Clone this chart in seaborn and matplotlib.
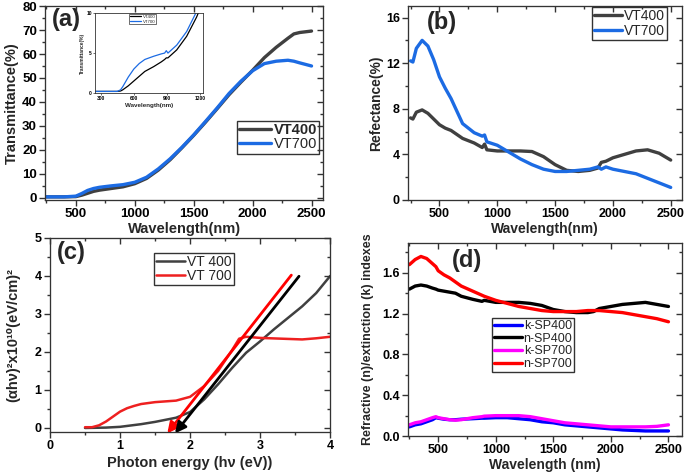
import pandas as pd
import matplotlib
matplotlib.use("Agg")
import matplotlib.pyplot as plt
from matplotlib.ticker import AutoMinorLocator
import seaborn as sns

# ---------------- data ----------------
# (a) transmittance
wl_a = [250, 400, 500, 550, 600, 650, 700, 800, 900, 1000, 1100, 1200, 1300, 1400,
        1500, 1600, 1700, 1800, 1900, 2000, 2100, 2200, 2300, 2350, 2400, 2500]
t400 = [0.3, 0.3, 0.4, 1.0, 1.8, 2.6, 3.1, 3.8, 4.5, 5.8, 8.0, 11.5, 15.8, 20.8,
        26.0, 31.5, 37.2, 43.0, 48.2, 53.2, 58.5, 62.8, 66.6, 68.4, 69.0, 69.6]
t700 = [0.3, 0.3, 0.6, 1.7, 3.0, 3.8, 4.3, 4.9, 5.4, 6.4, 8.5, 12.0, 16.2, 21.0,
        26.2, 31.8, 37.5, 43.5, 48.6, 53.0, 56.0, 57.0, 57.4, 57.0, 56.3, 55.0]

# inset of (a)
wl_in = [250, 450, 480, 500, 550, 600, 650, 700, 780, 850, 880, 895, 910, 990, 1080, 1170, 1200]
in400 = [0.2, 0.2, 0.25, 0.4, 0.9, 1.5, 2.1, 2.7, 3.3, 3.9, 4.2, 4.4, 4.4, 5.4, 7.1, 9.5, 10.5]
in700 = [0.2, 0.2, 0.4, 0.8, 2.0, 3.0, 3.7, 4.2, 4.6, 4.9, 5.0, 5.3, 5.0, 6.0, 7.7, 10.2, 11.0]

# (b) reflectance
wl_b = [250, 270, 300, 350, 400, 450, 500, 550, 600, 700, 800, 870, 890, 910, 1000, 1100,
        1200, 1300, 1400, 1500, 1600, 1700, 1800, 1870, 1900, 1940, 2000, 2100, 2200, 2300, 2400, 2500]
r400 = [7.2, 7.1, 7.7, 7.9, 7.6, 7.1, 6.6, 6.3, 6.1, 5.4, 5.0, 4.6, 4.9, 4.4, 4.3, 4.3,
        4.3, 4.25, 3.8, 3.1, 2.6, 2.5, 2.6, 2.8, 3.3, 3.4, 3.7, 4.0, 4.3, 4.4, 4.1, 3.5]
r700 = [12.2, 12.1, 13.3, 14.0, 13.5, 12.3, 10.8, 9.8, 8.9, 6.7, 5.9, 5.6, 5.7, 5.1, 4.8, 4.2,
        3.6, 3.1, 2.7, 2.5, 2.5, 2.6, 2.7, 2.9, 2.7, 2.9, 2.7, 2.5, 2.3, 1.9, 1.5, 1.1]

# (c) Tauc plot
e400 = [0.5, 0.8, 1.0, 1.3, 1.5, 1.8, 2.0, 2.2, 2.4, 2.6, 2.8, 3.0, 3.2, 3.4, 3.6, 3.8, 4.0]
a400 = [0.0, 0.01, 0.03, 0.1, 0.16, 0.27, 0.42, 0.75, 1.15, 1.58, 1.98, 2.28, 2.6, 2.9, 3.2, 3.55, 4.0]
e700 = [0.5, 0.6, 0.7, 0.8, 0.9, 1.0, 1.1, 1.2, 1.3, 1.5, 1.8, 2.0, 2.2, 2.4, 2.6, 2.7,
        2.8, 3.0, 3.3, 3.6, 3.8, 4.0]
a700 = [0.02, 0.02, 0.07, 0.17, 0.3, 0.43, 0.52, 0.58, 0.63, 0.68, 0.72, 0.82, 1.1, 1.5, 2.05, 2.35,
        2.4, 2.37, 2.35, 2.33, 2.36, 2.4]
# tangent arrows (start, tip)
arrow700 = [(3.47, 4.08), (1.65, -0.2)]
arrow400 = [(3.58, 4.05), (1.76, -0.2)]

# (d) optical constants
wl_d = [250, 300, 350, 400, 450, 480, 500, 550, 600, 650, 700, 800, 880, 900, 1000, 1100,
        1200, 1300, 1400, 1500, 1600, 1700, 1800, 1850, 1900, 2000, 2100, 2200, 2300, 2400, 2500]
n700 = [1.68, 1.73, 1.76, 1.74, 1.69, 1.66, 1.62, 1.58, 1.55, 1.51, 1.47, 1.42, 1.38, 1.37, 1.33, 1.30,
        1.27, 1.25, 1.23, 1.22, 1.22, 1.22, 1.23, 1.23, 1.23, 1.22, 1.21, 1.19, 1.17, 1.15, 1.12]
n400 = [1.44, 1.47, 1.48, 1.47, 1.45, 1.44, 1.43, 1.42, 1.41, 1.40, 1.37, 1.34, 1.32, 1.33, 1.31, 1.31,
        1.31, 1.30, 1.28, 1.24, 1.22, 1.21, 1.21, 1.22, 1.25, 1.27, 1.29, 1.30, 1.31, 1.29, 1.27]
k400 = [0.09, 0.11, 0.12, 0.14, 0.16, 0.18, 0.175, 0.165, 0.16, 0.16, 0.165, 0.17, 0.175, 0.175, 0.18, 0.18,
        0.17, 0.16, 0.14, 0.13, 0.11, 0.10, 0.09, 0.085, 0.08, 0.07, 0.06, 0.055, 0.05, 0.05, 0.05]
k700 = [0.11, 0.13, 0.14, 0.16, 0.18, 0.19, 0.18, 0.17, 0.16, 0.155, 0.16, 0.18, 0.19, 0.195, 0.2, 0.2,
        0.2, 0.19, 0.17, 0.15, 0.13, 0.12, 0.11, 0.105, 0.1, 0.09, 0.09, 0.09, 0.09, 0.095, 0.11]

GRAY = "#404040"
BLUE = "#1c6be3"

sns.set_style("ticks")
plt.rcParams['font.family'] = ['Liberation Sans', 'DejaVu Sans']
plt.rcParams['font.weight'] = 'bold'
plt.rcParams['axes.labelweight'] = 'bold'
plt.rcParams['axes.edgecolor'] = '#333333'
plt.rcParams['xtick.color'] = '#333333'
plt.rcParams['ytick.color'] = '#333333'
plt.rcParams['xtick.labelcolor'] = 'black'
plt.rcParams['ytick.labelcolor'] = 'black'

fig = plt.figure(figsize=(6.85, 4.75), dpi=100)
ax_a = fig.add_axes([0.066, 0.579, 0.406, 0.408])
ax_b = fig.add_axes([0.596, 0.579, 0.400, 0.408])
ax_c = fig.add_axes([0.073, 0.091, 0.409, 0.408])
ax_d = fig.add_axes([0.596, 0.082, 0.400, 0.406])


def style_axes(ax, fs=9.5):
    ax.xaxis.set_minor_locator(AutoMinorLocator(2))
    ax.yaxis.set_minor_locator(AutoMinorLocator(2))
    ax.tick_params(which='both', direction='out', labelsize=fs, width=1, pad=2)
    ax.tick_params(which='major', length=4)
    ax.tick_params(which='minor', length=2.5)
    for lab in ax.get_xticklabels() + ax.get_yticklabels():
        lab.set_fontweight('bold')
    # inward ticks on top and right like the original (twin axes)
    tx = ax.twiny()
    tx.set_xlim(ax.get_xlim())
    tx.set_xticks(ax.get_xticks())
    tx.xaxis.set_minor_locator(AutoMinorLocator(2))
    tx.tick_params(which='both', direction='in', labeltop=False, width=1, color='#333333')
    tx.tick_params(which='major', length=4)
    tx.tick_params(which='minor', length=2.5)
    ty = ax.twinx()
    ty.set_ylim(ax.get_ylim())
    ty.set_yticks(ax.get_yticks())
    ty.set_ylim(ax.get_ylim())
    ty.yaxis.set_minor_locator(AutoMinorLocator(2))
    ty.tick_params(which='both', direction='in', labelright=False, width=1, color='#333333')
    ty.tick_params(which='major', length=4)
    ty.tick_params(which='minor', length=2.5)


def legend(ax, loc, anchor, fs, hl=2.2):
    leg = ax.legend(loc=loc, bbox_to_anchor=anchor, fontsize=fs, frameon=True, fancybox=False,
                    edgecolor='black', borderpad=0.15, labelspacing=0.05, handlelength=hl,
                    handletextpad=0.15, borderaxespad=0)
    leg.get_frame().set_linewidth(1)
    return leg


# ---------------- (a) ----------------
sns.lineplot(x=wl_a, y=t400, ax=ax_a, color=GRAY, lw=2.4, label='VT400')
sns.lineplot(x=wl_a, y=t700, ax=ax_a, color=BLUE, lw=2.4, label='VT700')
ax_a.set_xlim(240, 2600)
ax_a.set_ylim(-1, 80)
ax_a.set_xticks([500, 1000, 1500, 2000, 2500])
ax_a.set_yticks(range(0, 81, 10))
ax_a.set_xlabel('Wavelength(nm)', fontsize=10.5, labelpad=1)
ax_a.set_ylabel('Transmittance(%)', fontsize=10.5, labelpad=2)
leg = legend(ax_a, 'upper left', (0.69, 0.41), 10.5)
for txt, w in zip(leg.get_texts(), ['bold', 'normal']):
    txt.set_fontweight(w)
ax_a.text(0.075, 0.93, '(a)', transform=ax_a.transAxes, fontsize=17, fontweight='bold',
          ha='center', va='center')
style_axes(ax_a)

ins = ax_a.inset_axes([0.18, 0.552, 0.388, 0.412])
ins.set_zorder(5)
sns.lineplot(x=wl_in, y=in400, ax=ins, color='black', lw=0.9, label='VT400')
sns.lineplot(x=wl_in, y=in700, ax=ins, color=BLUE, lw=0.9, label='VT700')
ins.set_xlim(250, 1230)
ins.set_ylim(0, 10)
ins.set_xticks([300, 600, 900, 1200])
ins.set_yticks([0, 5, 10])
ins.tick_params(labelsize=3.5, length=1.5, width=0.5, pad=1)
ins.set_xlabel('Wavelength(nm)', fontsize=4.5, labelpad=1)
ins.set_ylabel('Transmittance(%)', fontsize=3.5, labelpad=1)
for s in ins.spines.values():
    s.set_linewidth(0.6)
ileg = ins.legend(loc='upper center', bbox_to_anchor=(0.44, 0.99), fontsize=3.2, fancybox=False,
                  edgecolor='black', borderpad=0.2, labelspacing=0.1, handlelength=2.5,
                  handletextpad=0.3, borderaxespad=0)
ileg.get_frame().set_linewidth(0.5)
for txt in ileg.get_texts():
    txt.set_fontweight('normal')

# ---------------- (b) ----------------
sns.lineplot(x=wl_b, y=r400, ax=ax_b, color=GRAY, lw=2.4, label='VT400')
sns.lineplot(x=wl_b, y=r700, ax=ax_b, color=BLUE, lw=2.4, label='VT700')
ax_b.set_xlim(230, 2600)
ax_b.set_ylim(0, 17)
ax_b.set_xticks([500, 1000, 1500, 2000, 2500])
ax_b.set_yticks([0, 4, 8, 12, 16])
ax_b.set_xlabel('Wavelength(nm)', fontsize=10, labelpad=1)
ax_b.set_ylabel('Refectance(%)', fontsize=10, labelpad=2)
leg = legend(ax_b, 'upper right', (0.945, 0.995), 10, hl=2.0)
for txt in leg.get_texts():
    txt.set_fontweight('normal')
ax_b.text(0.124, 0.918, '(b)', transform=ax_b.transAxes, fontsize=17, fontweight='bold',
          ha='center', va='center')
style_axes(ax_b, fs=9)

# ---------------- (c) ----------------
sns.lineplot(x=e400, y=a400, ax=ax_c, color=GRAY, lw=1.8, label='VT 400')
sns.lineplot(x=e700, y=a700, ax=ax_c, color='#ee2020', lw=1.8, label='VT 700')
for arr, col in [(arrow700, '#ff0000'), (arrow400, 'black')]:
    ax_c.annotate('', xy=arr[1], xytext=arr[0], annotation_clip=False,
                  arrowprops=dict(arrowstyle='-|>', color=col, lw=2, mutation_scale=16))
ax_c.set_xlim(0, 4)
ax_c.set_ylim(-0.1, 5)
ax_c.set_xticks([0, 1, 2, 3, 4])
ax_c.set_yticks([0, 1, 2, 3, 4, 5])
ax_c.set_xlabel('Photon energy (h\u03bd (eV))', fontsize=10.5, labelpad=3)
ax_c.set_ylabel('(\u03b1h\u03bd)\u00b2x10\u00b9\u2070(eV/cm)\u00b2', fontsize=10.5, labelpad=10)
leg = legend(ax_c, 'upper left', (0.37, 0.925), 10, hl=2.1)
for txt in leg.get_texts():
    txt.set_fontweight('normal')
ax_c.text(0.075, 0.923, '(c)', transform=ax_c.transAxes, fontsize=17, fontweight='bold',
          ha='center', va='center')
style_axes(ax_c, fs=9)

# ---------------- (d) ----------------
sns.lineplot(x=wl_d, y=k400, ax=ax_d, color='#0000ff', lw=2.4, label='k-SP400')
sns.lineplot(x=wl_d, y=n400, ax=ax_d, color='black', lw=2.4, label='n-SP400')
sns.lineplot(x=wl_d, y=k700, ax=ax_d, color='#ff00ff', lw=2.4, label='k-SP700')
sns.lineplot(x=wl_d, y=n700, ax=ax_d, color='#ff0000', lw=2.4, label='n-SP700')
ax_d.set_xlim(240, 2620)
ax_d.set_ylim(0, 1.89)
ax_d.set_xticks([500, 1000, 1500, 2000, 2500])
ax_d.set_yticks([0.0, 0.4, 0.8, 1.2, 1.6])
ax_d.set_xlabel('Wavelength (nm)', fontsize=10, labelpad=1)
ax_d.set_ylabel('Refractive (n)/extinction (k) indexes', fontsize=9, labelpad=6)
leg = legend(ax_d, 'upper left', (0.307, 0.611), 9)
for txt in leg.get_texts():
    txt.set_fontweight('normal')
ax_d.text(0.215, 0.912, '(d)', transform=ax_d.transAxes, fontsize=17, fontweight='bold',
          ha='center', va='center')
style_axes(ax_d, fs=9)

fig.savefig('out.png', dpi=100)
